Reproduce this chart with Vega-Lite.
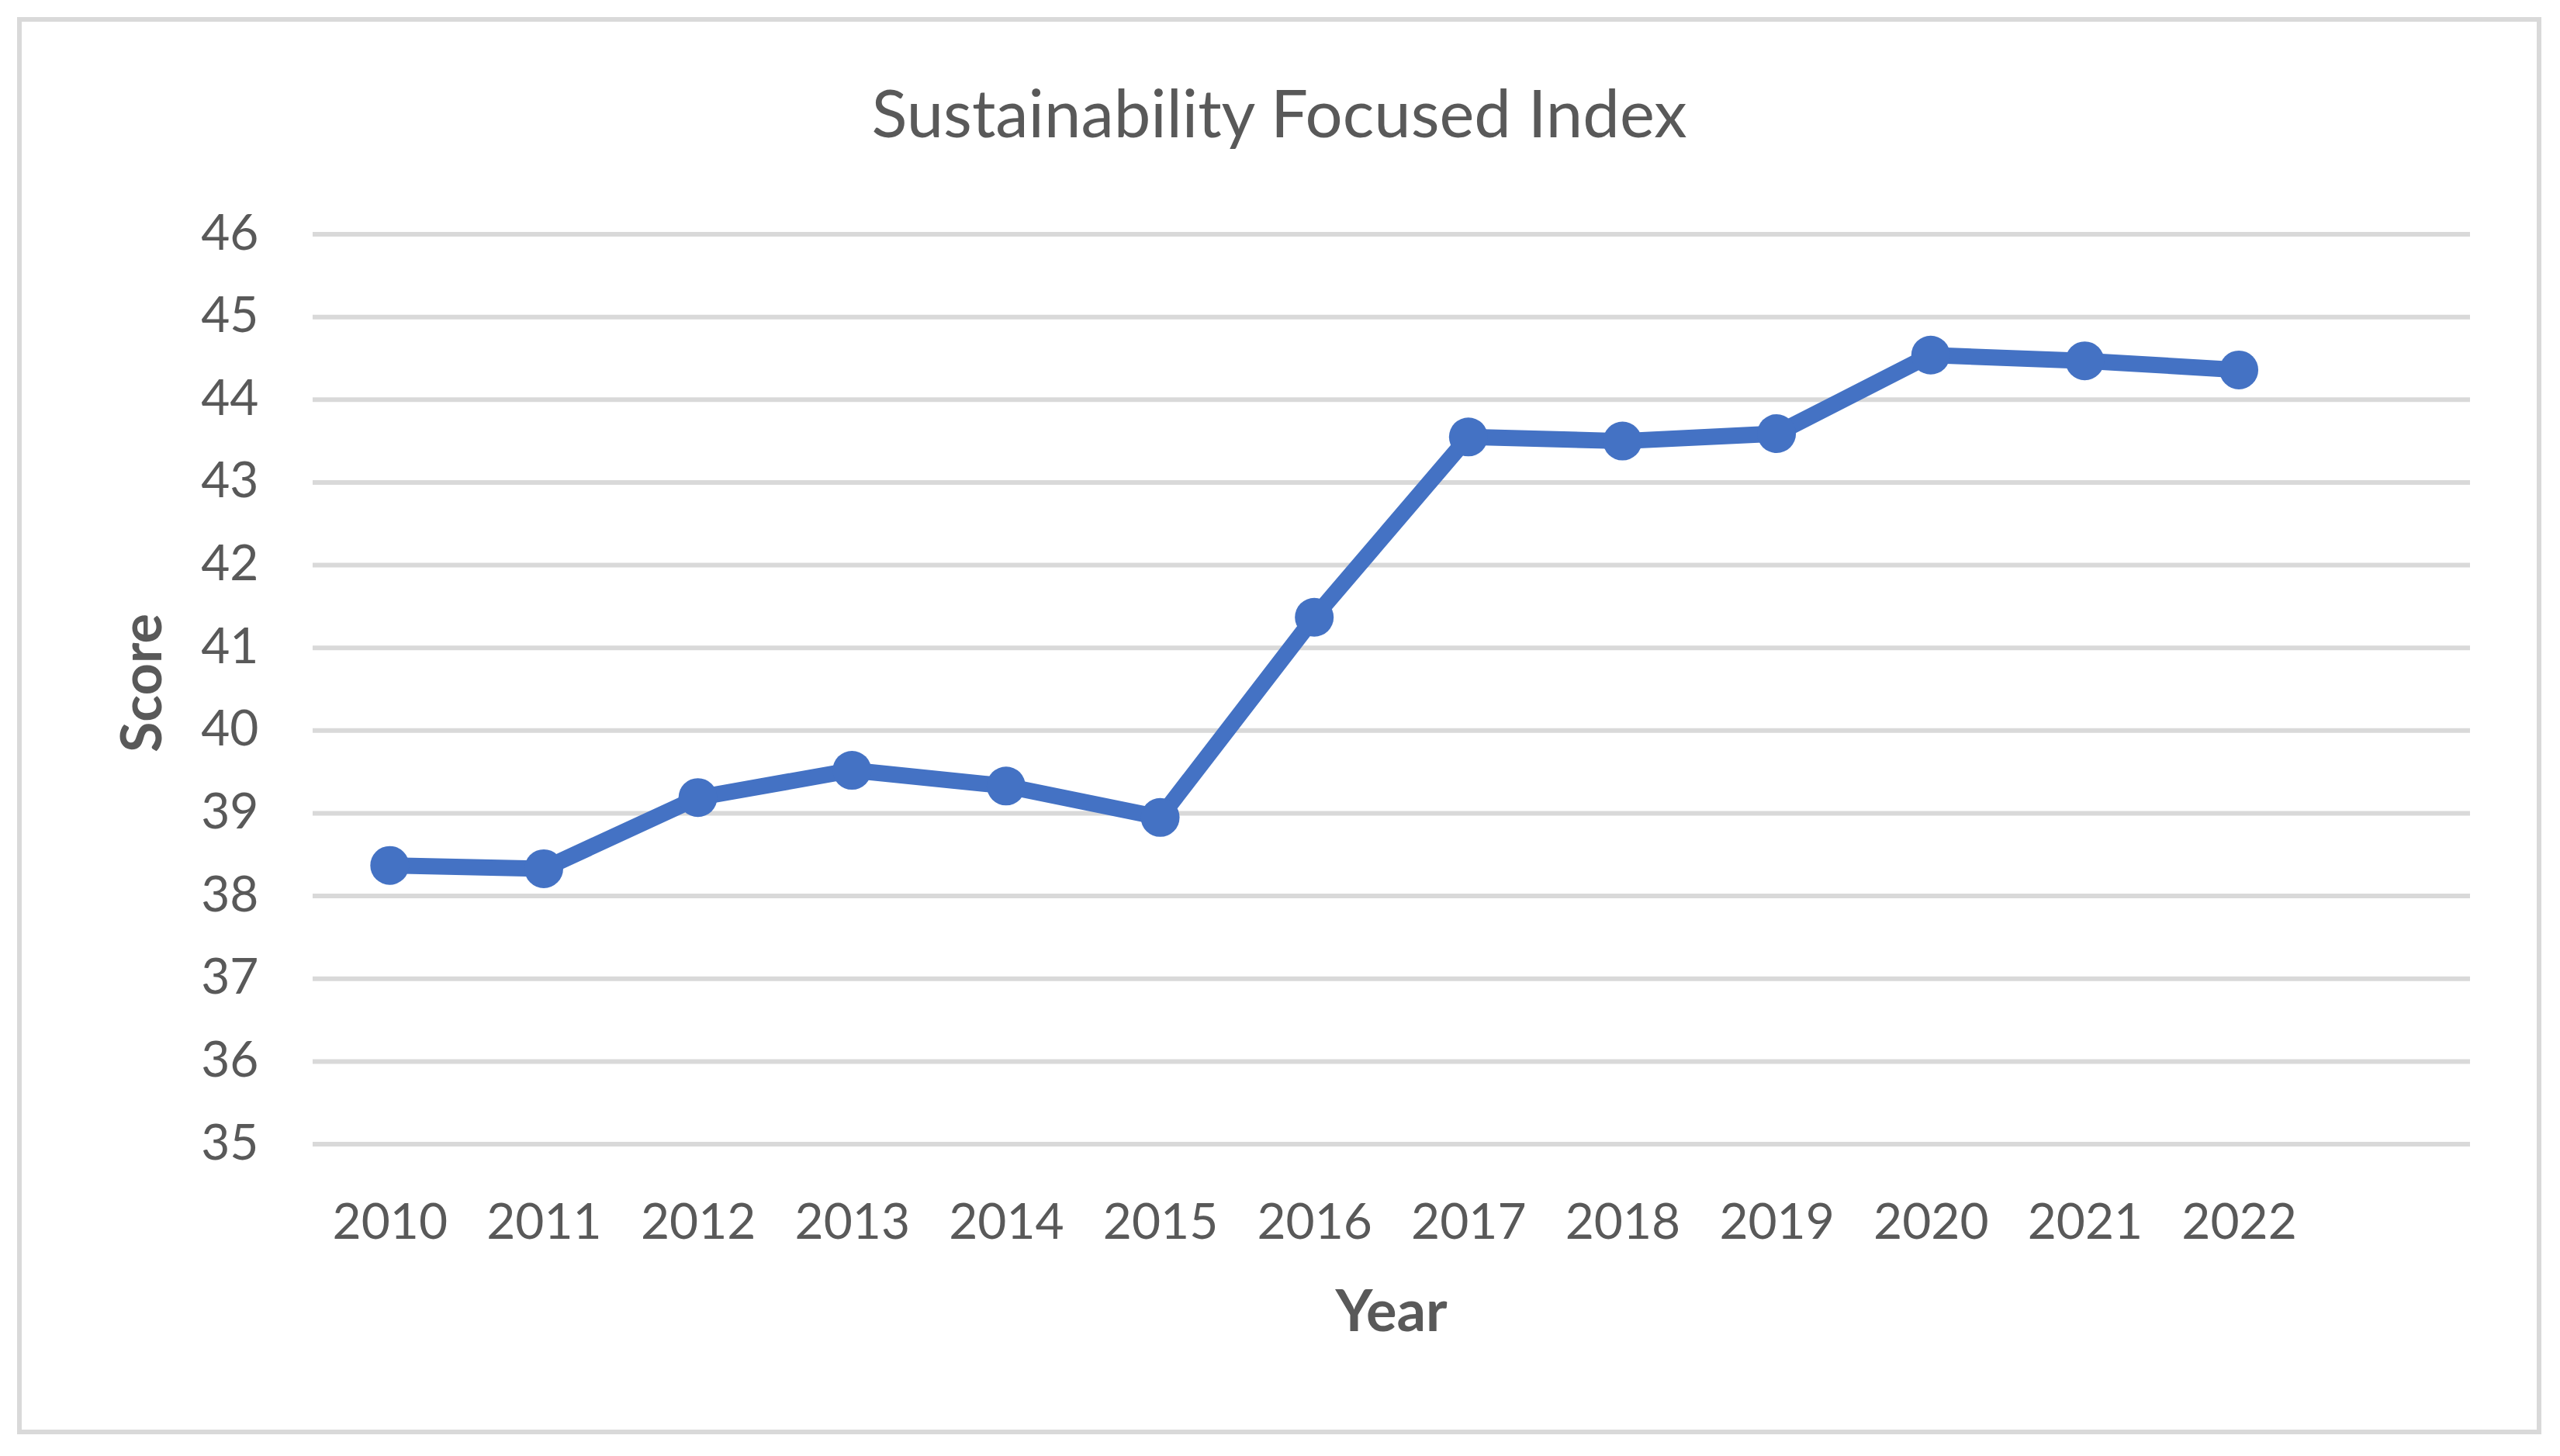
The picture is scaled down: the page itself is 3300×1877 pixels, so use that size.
{
  "$schema": "https://vega.github.io/schema/vega-lite/v6.json",
  "autosize": {"type": "none"},
  "padding": 25,
  "width": 3248,
  "height": 1821,
  "background": "white",
  "config": {
    "view": {"stroke": "#D9D9D9", "strokeWidth": 6},
    "font": "Lato"
  },
  "title": {
    "text": "Sustainability Focused Index",
    "font": "Lato",
    "fontSize": 85,
    "fontWeight": "normal",
    "color": "#595959",
    "anchor": "middle",
    "baseline": "alphabetic",
    "offset": -237
  },
  "datasets": {
    "scores": [
      {"year": 2010, "score": 38.37},
      {"year": 2011, "score": 38.33},
      {"year": 2012, "score": 39.19},
      {"year": 2013, "score": 39.52},
      {"year": 2014, "score": 39.33},
      {"year": 2015, "score": 38.95},
      {"year": 2016, "score": 41.37},
      {"year": 2017, "score": 43.55},
      {"year": 2018, "score": 43.50},
      {"year": 2019, "score": 43.59},
      {"year": 2020, "score": 44.54},
      {"year": 2021, "score": 44.47},
      {"year": 2022, "score": 44.36}
    ],
    "grid": [
      {"tick": 35}, {"tick": 36}, {"tick": 37}, {"tick": 38}, {"tick": 39}, {"tick": 40},
      {"tick": 41}, {"tick": 42}, {"tick": 43}, {"tick": 44}, {"tick": 45}, {"tick": 46}
    ]
  },
  "layer": [
    {
      "data": {"name": "grid"},
      "mark": {"type": "rule", "color": "#D9D9D9", "strokeWidth": 6},
      "encoding": {
        "y": {
          "field": "tick",
          "type": "quantitative",
          "scale": {"domain": [31.521, 48.598], "nice": false, "zero": false},
          "axis": {
            "title": "Score",
            "values": [35, 36, 37, 38, 39, 40, 41, 42, 43, 44, 45, 46],
            "format": "d",
            "grid": false,
            "domain": false,
            "ticks": false,
            "tickSize": 0,
            "labelPadding": 0,
            "offset": -308,
            "labelFont": "Lato",
            "labelFontSize": 64,
            "labelColor": "#595959",
            "titleFont": "Lato",
            "titleFontSize": 72,
            "titleFontWeight": "bold",
            "titleColor": "#595959",
            "titleAngle": -90,
            "titleBaseline": "middle",
            "titleAlign": "center",
            "titleX": -148,
            "titleY": 855
          }
        },
        "x": {"datum": 2009.5, "type": "quantitative"},
        "x2": {"datum": 2023.5}
      }
    },
    {
      "data": {"name": "scores"},
      "mark": {"type": "line", "color": "#4472C4", "strokeWidth": 21, "strokeJoin": "round", "strokeCap": "round"},
      "encoding": {
        "x": {
          "field": "year",
          "type": "quantitative",
          "scale": {"domain": [2007.597, 2023.948], "nice": false, "zero": false},
          "axis": {
            "title": "Year",
            "values": [2010, 2011, 2012, 2013, 2014, 2015, 2016, 2017, 2018, 2019, 2020, 2021, 2022],
            "format": "d",
            "grid": false,
            "domain": false,
            "ticks": false,
            "tickSize": 0,
            "labelPadding": 0,
            "offset": -301,
            "labelFont": "Lato",
            "labelFontSize": 64,
            "labelColor": "#595959",
            "labelBaseline": "top",
            "titleFont": "Lato",
            "titleFontSize": 74,
            "titleFontWeight": "bold",
            "titleColor": "#595959",
            "titleAlign": "center",
            "titleBaseline": "middle",
            "titleX": 1768,
            "titleY": 148
          }
        },
        "y": {"field": "score", "type": "quantitative"}
      }
    },
    {
      "data": {"name": "scores"},
      "mark": {"type": "point", "shape": "circle", "filled": true, "opacity": 1, "color": "#4472C4", "size": 2500},
      "encoding": {
        "x": {"field": "year", "type": "quantitative"},
        "y": {"field": "score", "type": "quantitative"}
      }
    }
  ]
}
